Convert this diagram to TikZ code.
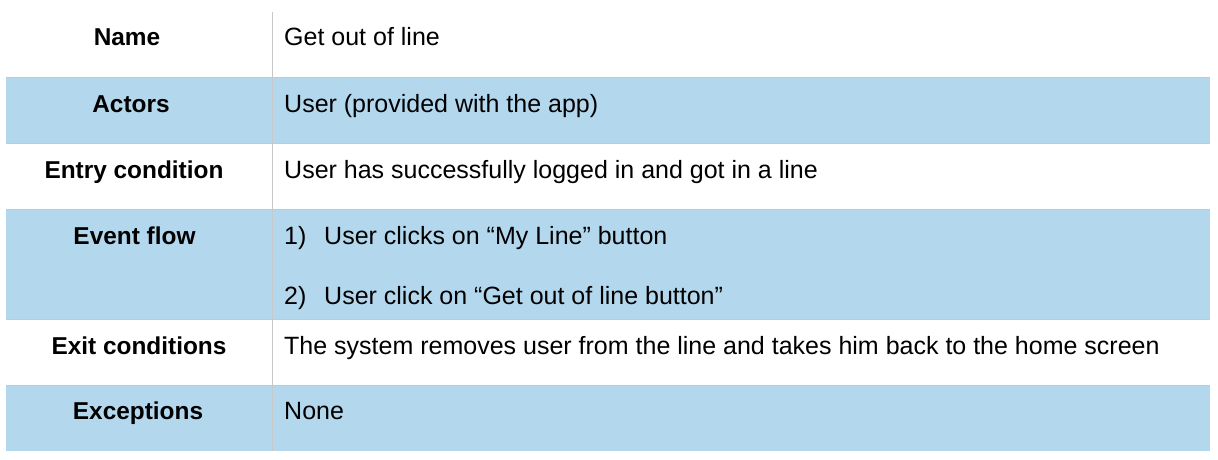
\documentclass[tikz,border=0pt]{standalone}
\usepackage{fontspec}
\setmainfont{Liberation Sans}
\usepackage{xcolor}
\usepackage{tikz}
\usetikzlibrary{positioning, calc}
\definecolor{rowblue}{HTML}{B3D8EE}
\definecolor{rulegray}{HTML}{C8C8C8}

\begin{document}
\begin{tikzpicture}[
    x=1pt, y=-1pt,
    every node/.style={font=\fontsize{25}{30}\selectfont, inner sep=0pt, text=black},
    rowfill/.style={
        fill=rowblue,
        draw=none
    },
    gridline/.style={
        draw=rulegray,
        line width=1.2pt
    },
    field/.style={
        anchor=base,
        font=\fontsize{24.4}{29}\selectfont\bfseries
    },
    entry/.style={
        anchor=base west
    }
]
\useasboundingbox (0,0) rectangle (1218,460);

% Shaded rows
\fill[rowblue] (6,77.5) rectangle (1210,143.5);
\fill[rowblue] (6,209.5) rectangle (1210,319.5);
\fill[rowblue] (6,385.5) rectangle (1210,451);

% Rules
\draw[gridline] (6,77.5) -- (1210,77.5);
\draw[gridline] (6,143.5) -- (1210,143.5);
\draw[gridline] (6,209.5) -- (1210,209.5);
\draw[gridline] (6,319.5) -- (1210,319.5);
\draw[gridline] (6,385.5) -- (1210,385.5);
\draw[gridline] (272.5,12) -- (272.5,451);

% Left column
\node[field] (name) at (127,46) {Name};
\node[field] (actors) at (131,112) {Actors};
\node[field] (entrycond) at (134,178) {Entry condition};
\node[field] (eventflow) at (134.5,244) {Event flow};
\node[field] (exitcond) at (139,354) {Exit conditions};
\node[field] (exceptions) at (138,419) {Exceptions};

% Right column
\node[entry] (nameval) at (284,46) {Get out of line};
\node[entry] (actorsval) at (284,112) {User (provided with the app)};
\node[entry] (entryval) at (284,178) {User has successfully logged in and got in a line};
\node[entry] (stepone) at (284,244) {1)};
\node[entry] (steponeval) at (324,244) {User clicks on “My Line” button};
\node[entry] (steptwo) at (284,304) {2)};
\node[entry] (steptwoval) at (324,304) {User click on “Get out of line button”};
\node[entry] (exitval) at (284,354) {The system removes user from the line and takes him back to the home screen};
\node[entry] (exceptionsval) at (284,419) {None};

\end{tikzpicture}
\end{document}
